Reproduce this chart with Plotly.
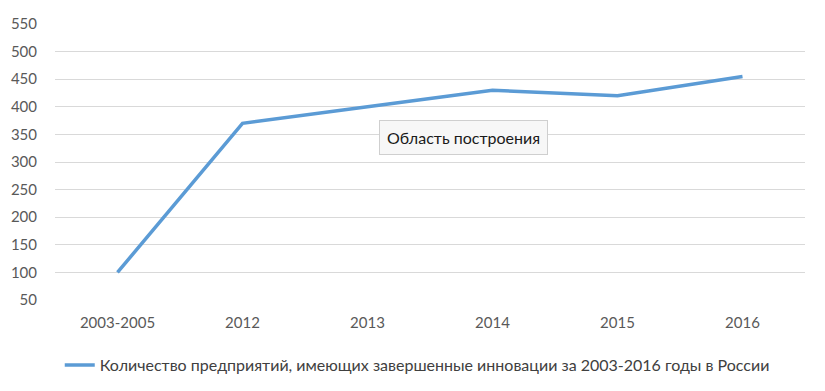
import plotly.graph_objects as go

categories = ["2003-2005", "2012", "2013", "2014", "2015", "2016"]
values = [100, 370, 400, 430, 420, 455]
series_name = "Количество предприятий, имеющих завершенные инновации за 2003-2016 годы в России"
y_ticks = [50, 100, 150, 200, 250, 300, 350, 400, 450, 500, 550]

FONT = "Lato"
GRAY = "#595959"

fig = go.Figure()
fig.add_trace(go.Scatter(
    x=categories, y=values, mode="lines", name=series_name,
    line=dict(color="#5B9BD5", width=3.5),
))

# the page body has an 8px default margin, so the figure is offset by 8px
fig.update_layout(
    width=817, height=383,
    margin=dict(l=47, r=20, t=16, b=91, autoexpand=False),
    paper_bgcolor="white", plot_bgcolor="white",
    font=dict(family=FONT, size=14, color=GRAY),
    showlegend=True,
    legend=dict(orientation="h", x=0.483, xanchor="center", y=-0.2355, yanchor="middle",
                itemwidth=30,
                font=dict(family=FONT, size=16, color="#404040")),
    xaxis=dict(type="category", range=[-0.5, 5.5], showgrid=False, automargin=False,
               showline=False, ticks="", ticklabelstandoff=12,
               tickfont=dict(size=15, color=GRAY)),
    yaxis=dict(range=[50, 550], tickvals=y_ticks, showgrid=True, automargin=False,
               gridcolor="#D9D9D9", gridwidth=1, zeroline=False,
               showline=False, ticks="", ticklabelstandoff=17,
               tickfont=dict(size=15, color=GRAY)),
    annotations=[dict(
        text="Область построения", x=0.545, y=0.59, xref="paper", yref="paper",
        showarrow=False, font=dict(family=FONT, size=16, color="#1a1a1a"),
        bgcolor="#F7F7F7", bordercolor="#CFCFCF", borderwidth=1, borderpad=7,
    )],
)

fig.write_html("out.html")
